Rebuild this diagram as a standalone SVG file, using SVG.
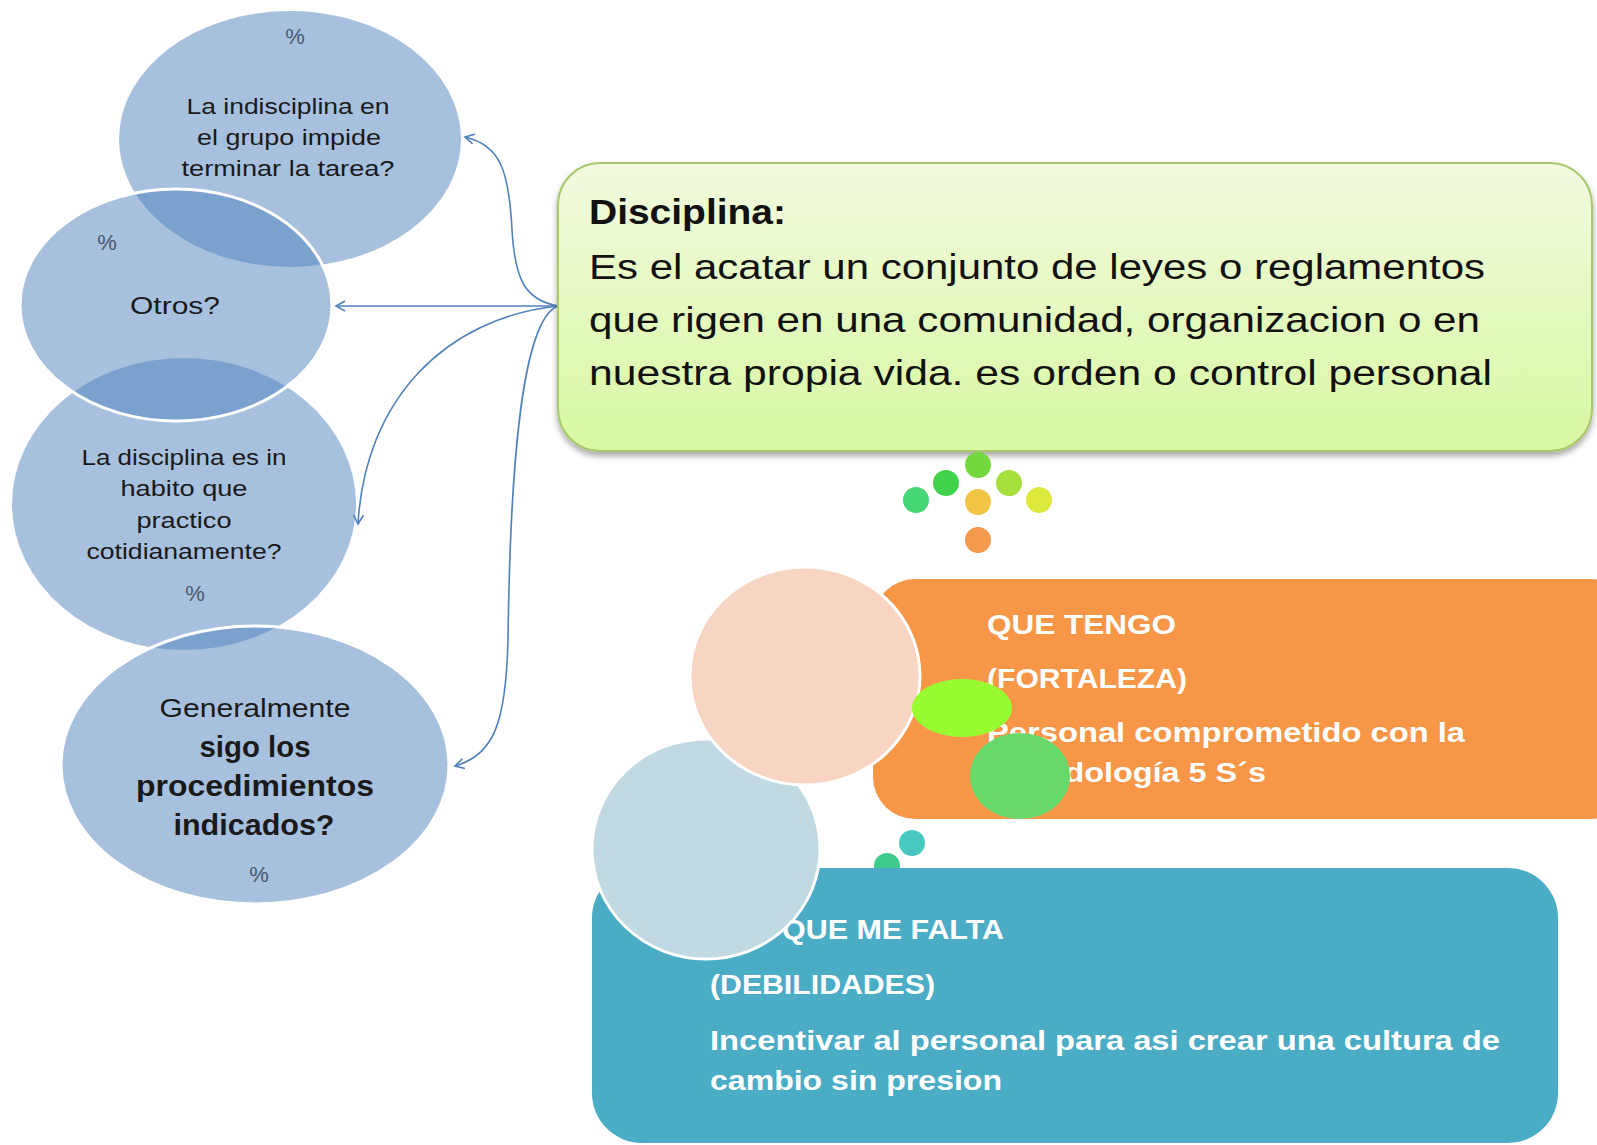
<svg xmlns="http://www.w3.org/2000/svg" width="1597" height="1145" viewBox="0 0 1597 1145">
<defs>
<linearGradient id="gGreen" x1="0" y1="0" x2="0" y2="1">
<stop offset="0" stop-color="#F2FADF"/>
<stop offset="1" stop-color="#D8F8A2"/>
</linearGradient>
<filter id="sh" x="-5%" y="-10%" width="110%" height="130%">
<feGaussianBlur in="SourceAlpha" stdDeviation="3"/>
<feOffset dx="0" dy="4" result="b"/>
<feComponentTransfer><feFuncA type="linear" slope="0.35"/></feComponentTransfer>
<feMerge><feMergeNode/><feMergeNode in="SourceGraphic"/></feMerge>
</filter>
<marker id="arr" viewBox="0 0 12 12" refX="10" refY="6" markerWidth="12" markerHeight="12" markerUnits="userSpaceOnUse" orient="auto">
<path d="M1,1 L10,6 L1,11" fill="none" stroke="#4F81BD" stroke-width="1.6"/>
</marker>
</defs>
<style>
.bub{fill:#4F81BD;fill-opacity:0.5}
.bubw{fill:#4F81BD;fill-opacity:0.5;stroke:#FFFFFF;stroke-width:3}
.q{font-family:"Liberation Sans",Arial,sans-serif;fill:#1A1A1A;text-anchor:middle}
.pc{font-family:"Liberation Sans",Arial,sans-serif;fill:#4A5A70;font-size:22px;text-anchor:middle}
.dt{font-family:"Liberation Sans",Arial,sans-serif;fill:#111111;font-size:35px}
.wt{font-family:"Liberation Sans",Arial,sans-serif;fill:#FFFFFF;font-weight:bold;font-size:28px}
.con{fill:none;stroke:#4F81BD;stroke-width:1.6}
</style>
<rect width="1597" height="1145" fill="#FFFFFF"/>

<g id="bubble1">
<ellipse class="bub" cx="290" cy="139" rx="171" ry="128"/>
<text class="pc" x="295" y="44">%</text>
<text class="q" font-size="22" x="288" y="114" textLength="203" lengthAdjust="spacingAndGlyphs">La indisciplina en</text>
<text class="q" font-size="22" x="289" y="145" textLength="184" lengthAdjust="spacingAndGlyphs">el grupo impide</text>
<text class="q" font-size="22" x="288" y="176" textLength="213" lengthAdjust="spacingAndGlyphs">terminar la tarea?</text>
</g>
<g id="bubble3">
<ellipse class="bub" cx="184" cy="504" rx="172" ry="146"/>
<text class="q" font-size="22" x="184" y="465" textLength="205" lengthAdjust="spacingAndGlyphs">La disciplina es in</text>
<text class="q" font-size="22" x="184" y="496" textLength="127" lengthAdjust="spacingAndGlyphs">habito que</text>
<text class="q" font-size="22" x="184" y="528" textLength="95" lengthAdjust="spacingAndGlyphs">practico</text>
<text class="q" font-size="22" x="184" y="559" textLength="195" lengthAdjust="spacingAndGlyphs">cotidianamente?</text>
<text class="pc" x="195" y="601">%</text>
</g>
<g id="bubble2">
<ellipse class="bubw" cx="176" cy="305" rx="156" ry="116"/>
<text class="pc" x="107" y="250">%</text>
<text class="q" font-size="24" x="175" y="314" textLength="90" lengthAdjust="spacingAndGlyphs">Otros?</text>
</g>
<g id="bubble4">
<ellipse class="bubw" cx="255" cy="765" rx="194" ry="139"/>
<text class="q" font-size="25" x="255" y="717" textLength="191" lengthAdjust="spacingAndGlyphs">Generalmente</text>
<text class="q" font-size="30" font-weight="bold" x="255" y="757" textLength="111" lengthAdjust="spacingAndGlyphs">sigo los</text>
<text class="q" font-size="30" font-weight="bold" x="255" y="796" textLength="238" lengthAdjust="spacingAndGlyphs">procedimientos</text>
<text class="q" font-size="30" font-weight="bold" x="254" y="835" textLength="161" lengthAdjust="spacingAndGlyphs">indicados?</text>
<text class="pc" x="259" y="882">%</text>
</g>

<g id="connectors">
<path class="con" d="M558,306 C525,300 515,280 512,230 C509,170 500,145 465,137" marker-end="url(#arr)"/>
<path class="con" d="M558,306 L336,306" marker-end="url(#arr)"/>
<path class="con" d="M558,306 C445,318 365,400 358,524" marker-end="url(#arr)"/>
<path class="con" d="M558,306 C520,320 510,480 508,640 C506,720 495,755 455,766" marker-end="url(#arr)"/>
</g>

<g id="disciplina">
<rect x="558" y="163" width="1034" height="288" rx="42" ry="42" fill="url(#gGreen)" stroke="#A6C86A" stroke-width="2" filter="url(#sh)"/>
<text class="dt" font-weight="bold" x="589" y="224" textLength="197" lengthAdjust="spacingAndGlyphs">Disciplina:</text>
<text class="dt" x="589" y="279" textLength="896" lengthAdjust="spacingAndGlyphs">Es el acatar un conjunto de leyes o reglamentos</text>
<text class="dt" x="589" y="332" textLength="891" lengthAdjust="spacingAndGlyphs">que rigen en una comunidad, organizacion o en</text>
<text class="dt" x="589" y="385" textLength="903" lengthAdjust="spacingAndGlyphs">nuestra propia vida. es orden o control personal</text>
</g>

<g id="dots">
<ellipse cx="978" cy="465" rx="13" ry="13" fill="#74D93F"/>
<ellipse cx="946" cy="483" rx="13" ry="13" fill="#3FD24A"/>
<ellipse cx="1009" cy="483" rx="13" ry="13" fill="#A6DE3C"/>
<ellipse cx="916" cy="500" rx="13" ry="13" fill="#47D676"/>
<ellipse cx="978" cy="502" rx="13" ry="13" fill="#F1C445"/>
<ellipse cx="1039" cy="500" rx="13" ry="13" fill="#DDEA3B"/>
<ellipse cx="978" cy="540" rx="13" ry="13" fill="#F39A4E"/>
<ellipse cx="912" cy="843" rx="13" ry="13" fill="#47C9BF"/>
<ellipse cx="887" cy="866" rx="13" ry="13" fill="#3DCB8B"/>
</g>

<g id="debilidades">
<rect x="592" y="868" width="966" height="275" rx="50" ry="50" fill="#4BACC6"/>
<text class="wt" x="782" y="939" textLength="222" lengthAdjust="spacingAndGlyphs">QUE ME FALTA</text>
<text class="wt" x="710" y="994" textLength="225" lengthAdjust="spacingAndGlyphs">(DEBILIDADES)</text>
<text class="wt" x="710" y="1050" textLength="790" lengthAdjust="spacingAndGlyphs">Incentivar al personal para asi crear una cultura de</text>
<text class="wt" x="710" y="1090" textLength="292" lengthAdjust="spacingAndGlyphs">cambio sin presion</text>
<ellipse cx="706" cy="849" rx="114" ry="110" fill="#C1D9E3" stroke="#FFFFFF" stroke-width="3"/>
</g>

<g id="fortaleza">
<rect x="873" y="579" width="760" height="240" rx="42" ry="42" fill="#F79646"/>
<text class="wt" x="987" y="634" textLength="189" lengthAdjust="spacingAndGlyphs">QUE TENGO</text>
<text class="wt" x="987" y="688" textLength="200" lengthAdjust="spacingAndGlyphs">(FORTALEZA)</text>
<text class="wt" x="987" y="742" textLength="478" lengthAdjust="spacingAndGlyphs">Personal comprometido con la</text>
<text class="wt" x="987" y="782" textLength="279" lengthAdjust="spacingAndGlyphs">metodología 5 S´s</text>
<ellipse cx="805" cy="676" rx="115" ry="109" fill="#F8D4C2" stroke="#FFFFFF" stroke-width="3"/>
<ellipse cx="962" cy="708" rx="50" ry="29" fill="#98FC30"/>
<ellipse cx="1020" cy="776" rx="50" ry="43" fill="#67D96B"/>
</g>
</svg>
